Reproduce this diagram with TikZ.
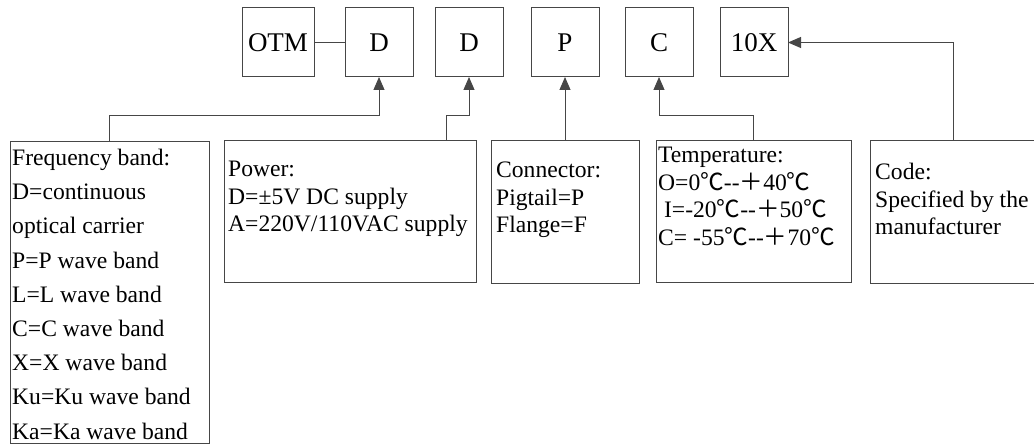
\documentclass[tikz,border=0pt]{standalone}
\usepackage{fontspec}
\setmainfont{Liberation Serif}
\newfontfamily\cjk{Noto Sans CJK SC}
\usetikzlibrary{arrows.meta,positioning}
\definecolor{boxbdr}{RGB}{70,70,70}
\definecolor{hdrclr}{RGB}{0,0,0}
\newcommand{\dgc}{{\cjk ℃}}
\newcommand{\fplus}{{\cjk ＋}}
\newcommand{\dsh}{-\kern0pt-}
\tikzset{
  %% code letter box (top row)
  cblk/.style={rectangle,draw=boxbdr,line width=1pt,outer sep=0pt,
    minimum width=68pt,minimum height=69pt,inner sep=0pt,
    font=\fontsize{27}{30}\selectfont,text=hdrclr},
  %% description frame (bottom row)
  dblk/.style={rectangle,draw=boxbdr,line width=1pt,outer sep=0pt,
    anchor=north west,inner sep=0pt},
  %% description text
  dtxt/.style={anchor=north west,align=left,inner sep=0pt,
    font=\fontsize{23.6}{27.5}\selectfont,text=hdrclr},
  %% arrows
  arr/.style={-{Triangle[length=13pt,width=11pt]},line width=1pt,color=boxbdr},
  lnk/.style={line width=1pt,color=boxbdr},
}
\begin{document}
\begin{tikzpicture}[x=1pt,y=1pt]
  \useasboundingbox (0,0) rectangle (1034,445);
  %% code row
  \node[cblk,minimum width=72pt] (otm) at (278,402.5) {OTM};
  \node[cblk,right=31pt of otm]  (dA)   {D};
  \node[cblk,right=22pt of dA]   (dB)   {D};
  \node[cblk,right=28pt of dB]   (p)    {P};
  \node[cblk,right=26pt of p]    (c)    {C};
  \node[cblk,right=27pt of c]    (tenx) {10X};
  \draw[lnk] (otm) -- (dA);

  %% description frames
  \node[dblk,minimum width=199pt,minimum height=301pt] (freq)  at (10,303)  {};
  \node[dblk,minimum width=252pt,minimum height=142pt] (power) at (224,304) {};
  \node[dblk,minimum width=148pt,minimum height=143pt] (conn)  at (491,304) {};
  \node[dblk,minimum width=195pt,minimum height=142pt] (temp)  at (656,304) {};
  \node[dblk,minimum width=166pt,minimum height=143pt] (code)  at (870,304) {};

  \node[dtxt,font=\fontsize{23.6}{34.2}\selectfont] (freqtxt) at ([shift={(2,-7)}]freq.north west)
    {Frequency band:\\D=continuous\\optical carrier\\P=P wave band\\L=L wave band\\
     C=C wave band\\X=X wave band\\Ku=Ku wave band\\Ka=Ka wave band};
  \node[dtxt] (powertxt) at ([shift={(4,-20)}]power.north west)
    {Power:\\D=±5V DC supply\\A=220V/110VAC supply};
  \node[dtxt] (conntxt) at ([shift={(5,-21)}]conn.north west)
    {Connector:\\Pigtail=P\\Flange=F};
  \node[dtxt] (temptxt) at ([shift={(2,-6)}]temp.north west)
    {Temperature:\\O=0\dgc\dsh\fplus40\dgc\\\ I=-20\dgc\dsh\fplus50\dgc\\C= -55\dgc\dsh\fplus70\dgc};
  \node[dtxt] (codetxt) at ([shift={(5,-22)}]code.north west)
    {Code:\\Specified by the\\manufacturer};

  %% connectors
  \draw[arr] (freq.north) -- ++(0,26) -| (dA.south);
  \draw[arr] ([xshift=-30pt]power.north east) -- ++(0,25) -| (dB.south);
  \draw[arr] (conn.north) -- (p.south);
  \draw[arr] (temp.north) -- ++(0,25) -| (c.south);
  \draw[arr] (code.north) |- (tenx.east);
\end{tikzpicture}
\end{document}
